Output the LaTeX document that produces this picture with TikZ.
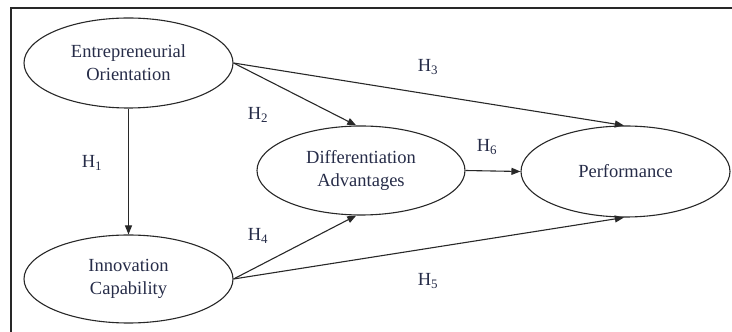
\documentclass[tikz,border=0pt]{standalone}
\usepackage{fontspec}
\setmainfont{Liberation Serif}
\usetikzlibrary{shapes.geometric,arrows.meta}
\definecolor{txt}{RGB}{38,44,72}
\definecolor{ln}{RGB}{40,40,40}
\begin{document}
\begin{tikzpicture}[x=1pt,y=1pt,
  var/.style={ellipse,draw=ln,line width=1.1pt,inner sep=0pt,align=center,
    text=txt,font=\fontsize{18.5}{23}\selectfont},
  hyp/.style={text=txt,font=\fontsize{18.5}{22}\selectfont,inner sep=0pt},
  link/.style={draw=ln,line width=1.1pt,-{Triangle[length=9pt,width=7pt]}}]
\useasboundingbox (0,0) rectangle (732,332);
\draw[line width=1.8pt,ln] (732,324) -- (11,324) -- (11,0);
\node[var,minimum width=209pt,minimum height=90pt] (eo) at (128.5,269) {Entrepreneurial\\Orientation};
\node[var,minimum width=209pt,minimum height=88pt] (ic) at (128.5,53) {Innovation\\Capability};
\node[var,minimum width=208pt,minimum height=89pt] (da) at (361,161.5) {Differentiation\\Advantages};
\node[var,minimum width=209pt,minimum height=91pt] (pf) at (625.5,160.5) {Performance};
\draw[link] (eo.south) -- (ic.north);
\draw[link] (eo.east) -- (da.96);
\draw[link] (eo.east) -- (pf.92);
\draw[link] (da.east) -- (pf.west);
\draw[link] (ic.east) -- (da.264);
\draw[link] (ic.east) -- (pf.268);
\node[hyp] (h1) at (92,169) {H\textsubscript{1}};
\node[hyp] (h2) at (258,217) {H\textsubscript{2}};
\node[hyp] (h3) at (428,265) {H\textsubscript{3}};
\node[hyp] (h4) at (258,96) {H\textsubscript{4}};
\node[hyp] (h5) at (428,51) {H\textsubscript{5}};
\node[hyp] (h6) at (487,185) {H\textsubscript{6}};
\end{tikzpicture}
\end{document}
